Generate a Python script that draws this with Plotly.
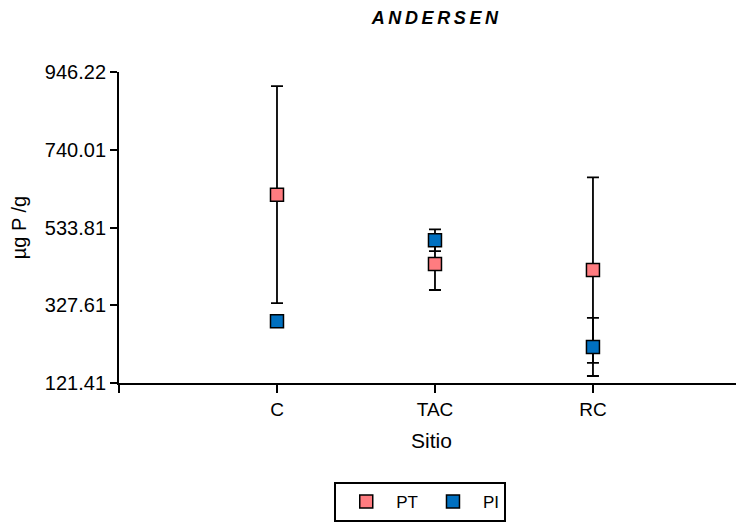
import plotly.graph_objects as go

sitios = ["C", "TAC", "RC"]
x_pos = [1, 2, 3]
pt_vals = [621, 437, 421]
pt_err = [288, 69, 246]
pi_vals = [285, 500, 217]
pi_err = [5, 29, 77]
y_ticks = [121.41, 327.61, 533.81, 740.01, 946.22]
y_tick_text = ["121.41", "327.61", "533.81", "740.01", "946.22"]

FONT = "Liberation Sans, Arial, sans-serif"

fig = go.Figure()
fig.add_trace(go.Scatter(
    x=x_pos, y=pt_vals, mode="markers", name="PT",
    marker=dict(symbol="square", size=13, color="#FF7C80",
                line=dict(color="black", width=1.5)),
    error_y=dict(type="data", array=pt_err, color="black", thickness=1.8, width=6),
))
fig.add_trace(go.Scatter(
    x=x_pos, y=pi_vals, mode="markers", name="PI",
    marker=dict(symbol="square", size=13, color="#0070C0",
                line=dict(color="black", width=1.5)),
    error_y=dict(type="data", array=pi_err, color="black", thickness=1.8, width=6),
))

fig.update_layout(
    width=736, height=515,
    margin=dict(l=111, r=0, t=64, b=140, autoexpand=False),
    paper_bgcolor="white", plot_bgcolor="white",
    font=dict(family=FONT, size=18, color="black"),
    title=dict(text="<b><i>A\u2009N\u2009D\u2009E\u2009R\u2009S\u2009E\u2009N</i></b>",
               x=0.580, xanchor="center",
               y=0.981, yanchor="middle", font=dict(size=18, family=FONT)),
    showlegend=True,
    legend=dict(orientation="h", x=0.482, xanchor="center", y=-0.3183, yanchor="top",
                bordercolor="black", borderwidth=2, font=dict(size=17, family=FONT),
                itemsizing="trace", itemwidth=50),
)
fig.update_xaxes(
    range=[0, 3.956], tickvals=[0] + x_pos, ticktext=[""] + sitios,
    showline=True, linecolor="black", linewidth=2, ticks="outside", ticklen=8,
    tickwidth=2, tickcolor="black", showgrid=False, zeroline=False,
    title=dict(text="Sitio", font=dict(size=21), standoff=15),
    tickfont=dict(size=19), automargin=False,
)
fig.update_yaxes(
    range=[121.41, 946.22], tickvals=y_ticks, ticktext=y_tick_text,
    showline=True, linecolor="black", linewidth=2, ticks="outside", ticklen=7,
    tickwidth=2, tickcolor="black", showgrid=False, zeroline=False,
    title=dict(text="µg P /g", font=dict(size=20), standoff=14),
    tickfont=dict(size=20), automargin=False,
)

fig.write_html("out.html")
